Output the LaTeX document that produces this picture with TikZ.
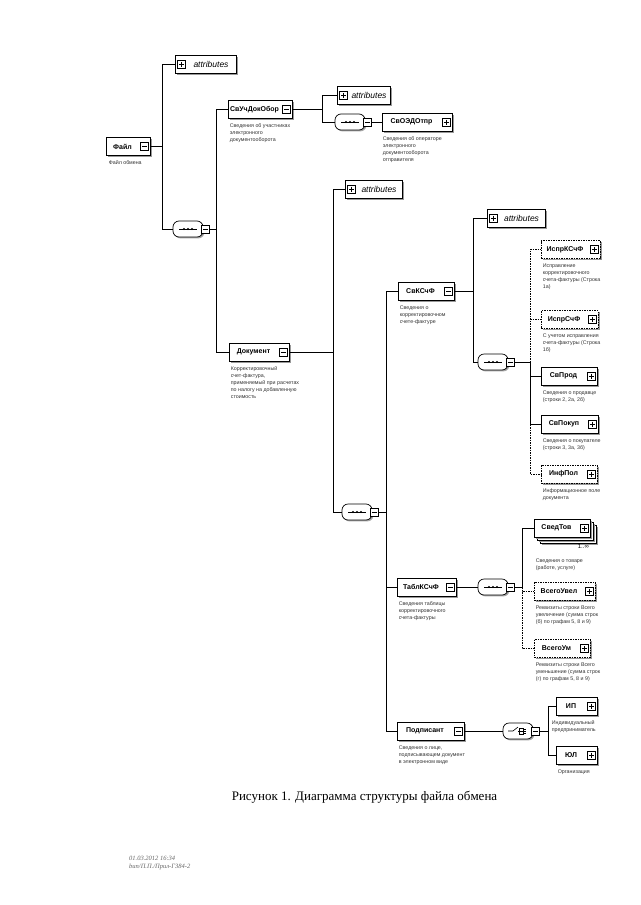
\documentclass[tikz,border=0pt]{standalone}
\usepackage{fontspec}
\setmainfont{Liberation Sans}
\newfontfamily\seriffont{Liberation Serif}
\usetikzlibrary{shadows,calc}
\tikzset{
  el/.style={draw, fill=white, line width=0.7pt, minimum height=18pt, inner sep=0pt,
    font=\fontsize{7}{8}\selectfont\bfseries,
    drop shadow={shadow xshift=1.6pt, shadow yshift=-1.6pt, fill=black!40, opacity=1}},
  optel/.style={el, dash pattern=on 1.5pt off 1pt},
  attrbox/.style={el, font=\fontsize{8.5}{9}\selectfont\itshape},
  xb/.style={draw, fill=white, minimum size=8pt, inner sep=0pt, line width=0.5pt},
  compbox/.style={draw, fill=white, rounded corners=6pt, minimum width=30pt, minimum height=16pt,
    line width=0.7pt, inner sep=0pt,
    drop shadow={shadow xshift=1.4pt, shadow yshift=-1.4pt, fill=black!35, opacity=1}},
  capt/.style={anchor=north west, inner sep=0pt, align=left, text=black!80,
    font=\fontsize{5.3}{7}\selectfont},
  conn/.style={line width=0.7pt},
  oconn/.style={line width=0.7pt, dash pattern=on 1.5pt off 1pt},
}
\newcommand\xminus[1]{%
  \node[xb] (#1x) at ($(#1.east)+(-6,0)$) {};
  \draw[line width=0.5pt] ($(#1x.center)+(-2.5,0)$) -- ($(#1x.center)+(2.5,0)$);}
\newcommand\xplus[1]{%
  \node[xb] (#1x) at ($(#1.east)+(-6,0)$) {};
  \draw[line width=0.5pt] ($(#1x.center)+(-2.5,0)$) -- ($(#1x.center)+(2.5,0)$);
  \draw[line width=0.5pt] ($(#1x.center)+(0,-2.5)$) -- ($(#1x.center)+(0,2.5)$);}
\newcommand\aplus[1]{%
  \node[xb] (#1x) at ($(#1.west)+(7,0)$) {};
  \draw[line width=0.5pt] ($(#1x.center)+(-2.5,0)$) -- ($(#1x.center)+(2.5,0)$);
  \draw[line width=0.5pt] ($(#1x.center)+(0,-2.5)$) -- ($(#1x.center)+(0,2.5)$);}
\newcommand\seqsym[1]{%
  \draw[line width=0.6pt] ($(#1.center)+(-9,0)$) -- ($(#1.center)+(9,0)$);
  \fill ($(#1.center)+(-4,0)$) circle (1.2pt);
  \fill ($(#1.center)$) circle (1.2pt);
  \fill ($(#1.center)+(4,0)$) circle (1.2pt);
  \node[xb] (#1x) at ($(#1.east)+(2,0)$) {};
  \draw[line width=0.5pt] ($(#1x.center)+(-2.5,0)$) -- ($(#1x.center)+(2.5,0)$);}
\newcommand\lbl[1]{#1\kern11pt\relax}
\newcommand\albl{\kern11pt attributes}
\begin{document}
\begin{tikzpicture}[x=1pt,y=-1pt]
\useasboundingbox[fill=white] (0,0) rectangle (640,905);

% ---- level 0
\node[el, minimum width=44pt] (fail) at (128,146.5) {\lbl{Файл}};
\xminus{fail}
\node[capt] (failc) at ($(fail.south west)+(3,5)$) {Файл обмена};

\node[attrbox, minimum width=61pt] (a1) at (205.5,64.5) {\albl};
\aplus{a1}
\node[compbox] (s1) at (188,229) {};
\seqsym{s1}
\coordinate (b1) at (162,146.5);
\draw[conn] (fail.east) -- (b1);
\draw[conn] (b1) |- (a1.west);
\draw[conn] (b1) |- (s1.west);

% ---- level 1
\node[el, minimum width=64pt] (svuch) at (260,109.5) {\lbl{СвУчДокОбор}};
\xminus{svuch}
\node[capt] (svuchc) at ($(svuch.south west)+(2,5)$) {Сведения об участниках\\электронного\\документооборота};
\node[el, minimum width=60pt] (doc) at (259,352) {\lbl{Документ}};
\xminus{doc}
\node[capt] (docc) at ($(doc.south west)+(2,5)$) {Корректировочный\\счет-фактура,\\применяемый при расчетах\\по налогу на добавленную\\стоимость};
\coordinate (b2) at (216,229);
\draw[conn] (s1x.east) -- (b2);
\draw[conn] (b2) |- (svuch.west);
\draw[conn] (b2) |- (doc.west);

% ---- СвУчДокОбор children
\node[attrbox, minimum width=53pt] (a2) at (363.5,95.5) {\albl};
\aplus{a2}
\node[compbox] (s2) at (350,122) {};
\seqsym{s2}
\node[el, minimum width=70pt] (svoed) at (417,122) {\lbl{СвОЭДОтпр}};
\xplus{svoed}
\node[capt] (svoedc) at ($(svoed.south west)+(1,5)$) {Сведения об операторе\\электронного\\документооборота\\отправителя};
\coordinate (b3) at (322,109.5);
\draw[conn] (svuch.east) -- (b3);
\draw[conn] (b3) |- (a2.west);
\draw[conn] (b3) |- (s2.west);
\draw[conn] (s2x.east) -- (svoed.west);

% ---- Документ children
\node[attrbox, minimum width=57pt] (a3) at (373.5,189) {\albl};
\aplus{a3}
\node[compbox] (s3) at (357,512) {};
\seqsym{s3}
\coordinate (b4) at (333,352);
\draw[conn] (doc.east) -- (b4);
\draw[conn] (b4) |- (a3.west);
\draw[conn] (b4) |- (s3.west);

\node[el, minimum width=56pt] (svk) at (426,291) {\lbl{СвКСчФ}};
\xminus{svk}
\node[capt] (svkc) at ($(svk.south west)+(2,5)$) {Сведения о\\корректировочном\\счете-фактуре};
\node[el, minimum width=59pt] (tabl) at (426.5,587) {\lbl{ТаблКСчФ}};
\xminus{tabl}
\node[capt] (tablc) at ($(tabl.south west)+(2,5)$) {Сведения таблицы\\корректировочного\\счета-фактуры};
\node[el, minimum width=67pt] (podp) at (430.5,731) {\lbl{Подписант}};
\xminus{podp}
\node[capt] (podpc) at ($(podp.south west)+(2,5)$) {Сведения о лице,\\подписывающем документ\\в электронном виде};
\coordinate (b5) at (386,512);
\draw[conn] (s3x.east) -- (b5);
\draw[conn] (b5) |- (svk.west);
\draw[conn] (b5) |- (tabl.west);
\draw[conn] (b5) |- (podp.west);

% ---- СвКСчФ children
\node[attrbox, minimum width=58pt] (a4) at (516,218) {\albl};
\aplus{a4}
\node[compbox] (s4) at (493,362) {};
\seqsym{s4}
\coordinate (b6) at (473,291);
\draw[conn] (svk.east) -- (b6);
\draw[conn] (b6) |- (a4.west);
\draw[conn] (b6) |- (s4.west);

\node[optel, minimum width=59pt] (ispk) at (570.5,249.5) {\lbl{ИспрКСчФ}};
\xplus{ispk}
\node[capt] (ispkc) at ($(ispk.south west)+(2,5)$) {Исправление\\корректировочного\\счета-фактуры (Строка\\1а)};
\node[optel, minimum width=57pt] (isps) at (569.5,319.5) {\lbl{ИспрСчФ}};
\xplus{isps}
\node[capt] (ispsc) at ($(isps.south west)+(2,5)$) {С учетом исправления\\счета-фактуры (Строка\\1б)};
\node[el, minimum width=56pt] (svpr) at (569,376) {\lbl{СвПрод}};
\xplus{svpr}
\node[capt] (svprc) at ($(svpr.south west)+(2,5)$) {Сведения о продавце\\(строки 2, 2а, 2б)};
\node[el, minimum width=57pt] (svpk) at (569.5,424) {\lbl{СвПокуп}};
\xplus{svpk}
\node[capt] (svpkc) at ($(svpk.south west)+(2,5)$) {Сведения о покупателе\\(строки 3, 3а, 3б)};
\node[optel, minimum width=56pt] (inf) at (569,474) {\lbl{ИнфПол}};
\xplus{inf}
\node[capt] (infc) at ($(inf.south west)+(2,5)$) {Информационное поле\\документа};
\coordinate (b7) at (530,362);
\draw[conn] (s4x.east) -- (b7);
\draw[oconn] (b7) |- (ispk.west);
\draw[oconn] (b7) |- (isps.west);
\draw[oconn] (b7) |- (inf.west);
\draw[conn] (b7) |- (svpr.west);
\draw[conn] (b7) |- (svpk.west);

% ---- ТаблКСчФ children
\node[compbox] (s5) at (493,587) {};
\seqsym{s5}
\coordinate (b8) at (522,587);
\draw[conn] (tabl.east) -- (s5.west);
\draw[conn] (s5x.east) -- (b8);

\node[el, minimum width=56pt] (svt3) at (568,534) {};
\node[el, minimum width=56pt] (svt2) at (565,531) {};
\node[el, minimum width=56pt] (svt) at (562,528) {\lbl{СведТов}};
\xplus{svt}
\node[font=\fontsize{6}{7}\selectfont, anchor=east] (svtm) at ($(svt.south east)+(2,9)$) {1..∞};
\node[capt] (svtc) at ($(svt.south west)+(2,21)$) {Сведения о товаре\\(работе, услуге)};
\node[optel, minimum width=61pt] (vuv) at (564.5,591) {\lbl{ВсегоУвел}};
\xplus{vuv}
\node[capt] (vuvc) at ($(vuv.south west)+(2,5)$) {Реквизиты строки Всего\\увеличение (сумма строк\\(б) по графам 5, 8 и 9)};
\node[optel, minimum width=56pt] (vum) at (562,648.5) {\lbl{ВсегоУм}};
\xplus{vum}
\node[capt] (vumc) at ($(vum.south west)+(2,5)$) {Реквизиты строки Всего\\уменьшение (сумма строк\\(г) по графам 5, 8 и 9)};
\draw[conn] (b8) |- (svt.west);
\draw[oconn] (b8) |- (vuv.west);
\draw[oconn] (b8) |- (vum.west);

% ---- Подписант children (choice)
\node[compbox] (ch) at (518,731) {};
\draw[line width=0.6pt] ($(ch.center)+(-10,0)$) -- ($(ch.center)+(-5,0)$) -- ($(ch.center)+(0,-4)$);
\draw[line width=0.6pt] ($(ch.center)+(0,0)$) -- ($(ch.center)+(8,0)$);
\draw[line width=0.5pt] ($(ch.center)+(1,-3)$) rectangle ($(ch.center)+(5,3)$);
\draw[line width=0.5pt] ($(ch.center)+(5,-2)$) -- ($(ch.center)+(8,-2)$);
\draw[line width=0.5pt] ($(ch.center)+(5,2)$) -- ($(ch.center)+(8,2)$);
\node[xb] (chx) at ($(ch.east)+(2,0)$) {};
\draw[line width=0.5pt] ($(chx.center)+(-2.5,0)$) -- ($(chx.center)+(2.5,0)$);
\coordinate (b9) at (548,731);
\draw[conn] (podp.east) -- (ch.west);
\draw[conn] (chx.east) -- (b9);

\node[el, minimum width=41pt] (ip) at (576.5,706) {\lbl{ИП}};
\xplus{ip}
\node[capt] (ipc) at ($(ip.south west)+(-4,5)$) {Индивидуальный\\предприниматель};
\node[el, minimum width=41pt] (ul) at (576.5,755) {\lbl{ЮЛ}};
\xplus{ul}
\node[capt] (ulc) at ($(ul.south west)+(2,5)$) {Организация};
\draw[conn] (b9) |- (ip.west);
\draw[conn] (b9) |- (ul.west);

% ---- title and footer
\node[font=\seriffont\fontsize{13}{15}\selectfont] (title) at (364.5,797) {Рисунок 1. Диаграмма структуры файла обмена};
\node[anchor=north west, inner sep=0pt, align=left, text=black!60,
  font=\seriffont\itshape\fontsize{6.5}{7.5}\selectfont] (foot) at (129,856) {01.03.2012 16:34\\bun/П.П./Прил-Г384-2};
\end{tikzpicture}
\end{document}
